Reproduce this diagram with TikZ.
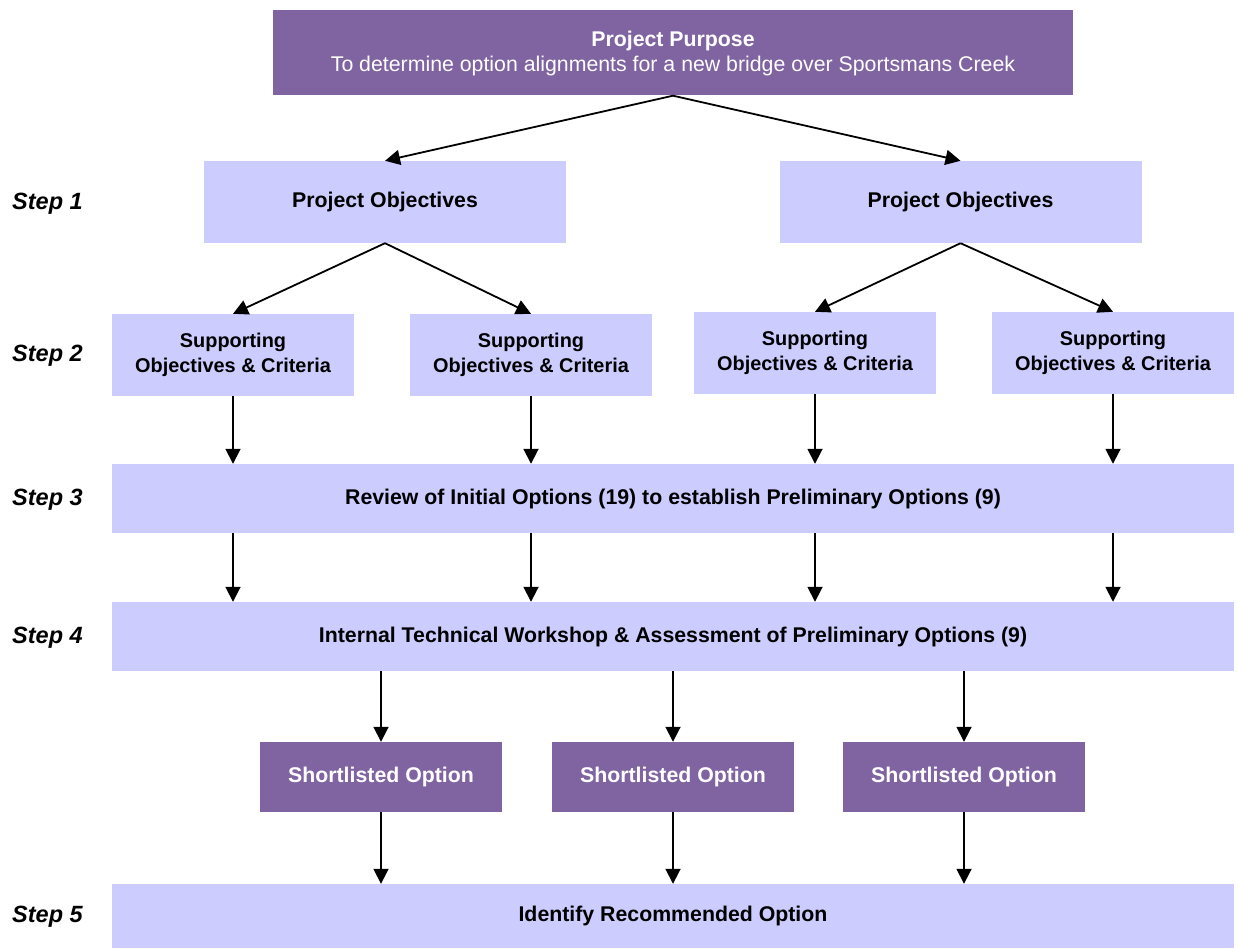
\documentclass[tikz,border=0pt]{standalone}
\usepackage{fontspec}
\setmainfont{Liberation Sans}
\usetikzlibrary{arrows.meta, positioning, calc}
\definecolor{purplebox}{HTML}{8064A2}
\definecolor{lavbox}{HTML}{CCCCFF}

\begin{document}
\begin{tikzpicture}[x=1pt, y=-1pt,
  darkbox/.style={fill=purplebox, text=white, inner sep=0pt, align=center, font=\bfseries\fontsize{21.3}{25}\selectfont},
  lightbox/.style={fill=lavbox, text=black, inner sep=0pt, align=center, font=\bfseries\fontsize{21.3}{25}\selectfont},
  suppbox/.style={lightbox, minimum width=242, minimum height=82, font=\bfseries\fontsize{19.9}{25}\selectfont},
  steplabel/.style={anchor=west, inner sep=0pt, font=\bfseries\itshape\fontsize{23.5}{27}\selectfont},
  flow/.style={line width=1.8pt, -{Triangle[length=15pt, width=15pt]}}]
\useasboundingbox (0,0) rectangle (1238,949);

% Purpose
\node[darkbox, minimum width=800, minimum height=85] (purpose) at (673,53)
  {Project Purpose\\\mdseries To determine option alignments for a new bridge over Sportsmans Creek};

% Step 1
\node[lightbox, minimum width=362, minimum height=82] (po1) at (385,202) {Project Objectives};
\node[lightbox, minimum width=362, minimum height=82] (po2) at (960.5,202) {Project Objectives};

% Step 2
\node[suppbox] (s1) at (233,355) {Supporting\\Objectives \& Criteria};
\node[suppbox] (s2) at (531,355) {Supporting\\Objectives \& Criteria};
\node[suppbox] (s3) at (815,353) {Supporting\\Objectives \& Criteria};
\node[suppbox] (s4) at (1113,353) {Supporting\\Objectives \& Criteria};

% Steps 3 and 4
\node[lightbox, minimum width=1122, minimum height=69] (review) at (673,498.5)
  {Review of Initial Options (19) to establish Preliminary Options (9)};
\node[lightbox, minimum width=1122, minimum height=69] (workshop) at (673,636.5)
  {Internal Technical Workshop \& Assessment of Preliminary Options (9)};

% Shortlist
\node[darkbox, minimum width=242, minimum height=70] (sh1) at (381,777) {Shortlisted Option};
\node[darkbox, minimum width=242, minimum height=70] (sh2) at (673,777) {Shortlisted Option};
\node[darkbox, minimum width=242, minimum height=70] (sh3) at (964,777) {Shortlisted Option};

% Step 5
\node[lightbox, minimum width=1122, minimum height=64] (recommend) at (673,916) {Identify Recommended Option};

% Step labels
\node[steplabel] (st1) at (12,204) {Step 1};
\node[steplabel] (st2) at (12,356) {Step 2};
\node[steplabel] (st3) at (12,500) {Step 3};
\node[steplabel] (st4) at (12,638) {Step 4};
\node[steplabel] (st5) at (12,917) {Step 5};

% Arrows
\draw[flow] (purpose.south) -- (po1.north);
\draw[flow] (purpose.south) -- (po2.north);
\draw[flow] (po1.south) -- (s1.north);
\draw[flow] (po1.south) -- (s2.north);
\draw[flow] (po2.south) -- (s3.north);
\draw[flow] (po2.south) -- (s4.north);
\foreach \s in {s1, s2, s3, s4} {
  \draw[flow] (\s.south) -- (\s.south |- review.north);
  \draw[flow] (\s.south |- review.south) -- (\s.south |- workshop.north);
}
\foreach \s in {sh1, sh2, sh3} {
  \draw[flow] (\s.north |- workshop.south) -- (\s.north);
  \draw[flow] (\s.south) -- (\s.south |- recommend.north);
}

\end{tikzpicture}
\end{document}
